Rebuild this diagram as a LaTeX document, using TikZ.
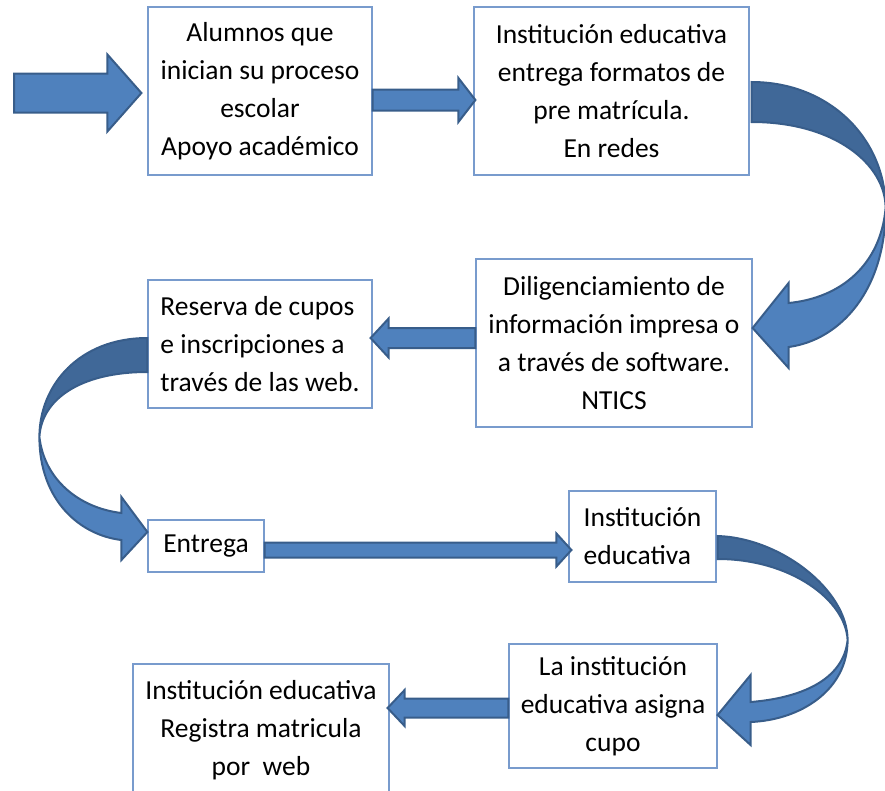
\documentclass[tikz,border=0pt]{standalone}
\usepackage{fontspec}
\setmainfont{Carlito}
\usetikzlibrary{calc}
\definecolor{borde}{RGB}{120,155,205}
\definecolor{relleno}{RGB}{79,129,189}
\definecolor{contorno}{RGB}{56,93,138}
\definecolor{sombra}{RGB}{64,104,152}
\tikzstyle{caja}=[draw=borde, fill=white, line width=1.2pt, inner sep=0pt, align=center, font=\fontsize{27.5}{38}\selectfont]
\tikzstyle{flecha}=[fill=relleno, draw=contorno, line width=2pt]
\tikzstyle{flechaosc}=[fill=sombra, draw=contorno, line width=2pt]
% block arrow: from, to, half shaft, half head, head length
\newcommand{\flechabloque}[5]{%
  \draw[flecha] let \p1=#1, \p2=#2, \n1={ifthenelse(\x2>\x1,1,-1)} in
    (\x1,{\y1+#3pt}) -- ({\x2-(\n1)*#5pt},{\y1+#3pt}) -- ({\x2-(\n1)*#5pt},{\y1+#4pt}) -- (\x2,\y1)
    -- ({\x2-(\n1)*#5pt},{\y1-#4pt}) -- ({\x2-(\n1)*#5pt},{\y1-#3pt}) -- (\x1,{\y1-#3pt}) -- cycle;}
\begin{document}
\begin{tikzpicture}[x=1pt, y=-1pt]
    \useasboundingbox (0,0) rectangle (885,790);
    \node[caja, minimum width=224pt, minimum height=168pt] (alumnos) at (260,91) {Alumnos que\\inician su proceso\\escolar\\Apoyo académico};
    \node[caja, minimum width=275pt, minimum height=168pt] (formatos) at (611.5,91) {Institución educativa\\entrega formatos de\\pre matrícula.\\En redes};
    \node[caja, minimum width=276pt, minimum height=168pt] (diligencia) at (614,343) {Diligenciamiento de\\información impresa o\\a través de software.\\NTICS};
    \node[caja, align=left, minimum width=224pt, minimum height=128pt] (reserva) at (260,344) {Reserva de cupos\\e inscripciones a\\través de las web.};
    \node[caja, minimum width=116pt, minimum height=52pt] (entrega) at (206,546) {Entrega};
    \node[caja, align=left, minimum width=147pt, minimum height=91pt] (institucion) at (642.5,536.5) {Institución\\educativa};
    \node[caja, minimum width=208pt, minimum height=124pt] (asigna) at (613,706) {La institución\\educativa asigna\\cupo};
    \node[caja, minimum width=256pt, minimum height=133pt] (registro) at (261,730.5) {Institución educativa\\Registra matricula\\por\ \ web};
    \coordinate (inicio) at (14,93);

    \flechabloque{(inicio)}{([xshift=-6pt,yshift=-2pt]alumnos.west)}{19.5}{38.5}{34}
    \flechabloque{([yshift=-9pt]alumnos.east)}{([xshift=2pt]formatos.west)}{10.5}{22}{17}
    \flechabloque{([yshift=5pt]diligencia.west)}{([xshift=-2pt]reserva.east)}{10}{19.5}{18}
    \flechabloque{([yshift=-4pt]entrega.east)}{([xshift=3pt]institucion.west)}{7.5}{16.5}{15}
    \flechabloque{([yshift=-2pt]asigna.west)}{([xshift=-2pt]registro.east)}{9.5}{18}{17}

    \begin{scope}[shift={(formatos.east)}]
        \draw[flechaosc] (2,-9) .. controls (81,-9) and (136,49) .. (136,117) .. controls (136,74) and (86,31) .. (2,31) -- cycle;
        \draw[flecha] (136,117) .. controls (136,199) and (91,249) .. (39,256) -- (39,277) -- (3,237) -- (39,192) -- (39,212) .. controls (91,207) and (131,174) .. (136,117) -- cycle;
    \end{scope}
    \begin{scope}[shift={(reserva.west)}]
        \draw[flechaosc] (0,-6) .. controls (-68,-6) and (-108,41) .. (-108,93) .. controls (-106,56) and (-68,28) .. (0,28) -- cycle;
        \draw[flecha] (-108,93) .. controls (-108,156) and (-68,191) .. (-26,196) -- (-26,216) -- (0,188) -- (-26,153) -- (-26,169) .. controls (-68,164) and (-103,136) .. (-108,93) -- cycle;
    \end{scope}
    \begin{scope}[shift={(institucion.east)}]
        \draw[flechaosc] (1,-0.5) .. controls (64,1.5) and (131,53.5) .. (131,103.5) .. controls (129,63.5) and (74,22.5) .. (1,22.5) -- cycle;
        \draw[flecha] (131,103.5) .. controls (131,153.5) and (84,183.5) .. (34,185.5) -- (34,208.5) -- (1,178.5) -- (34,138.5) -- (34,165.5) .. controls (84,161.5) and (127,143.5) .. (131,103.5) -- cycle;
    \end{scope}
\end{tikzpicture}
\end{document}
